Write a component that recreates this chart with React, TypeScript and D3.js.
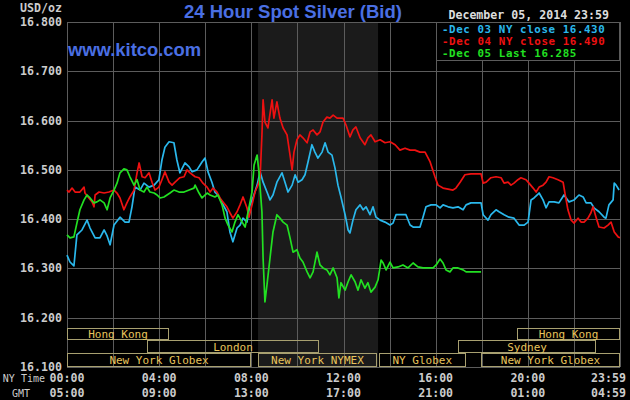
import React, { useEffect } from 'react';
import * as d3 from 'd3';

const priceTicks = [16.1, 16.2, 16.3, 16.4, 16.5, 16.6, 16.7, 16.8];
const gridHours = [0, 2, 4, 6, 8, 10, 12, 14, 16, 18, 20, 22, 24];
const labelHours = [0, 4, 8, 12, 16, 20, 24];
const nyTimeLabels = ['00:00', '04:00', '08:00', '12:00', '16:00', '20:00', '23:59'];
const gmtLabels = ['05:00', '09:00', '13:00', '17:00', '21:00', '01:00', '04:59'];

const dec03: [number, number][] = [
  [0, 16.327], [0.13, 16.313], [0.30, 16.305], [0.43, 16.368], [0.65, 16.378], [0.87, 16.398], [1.00, 16.382],
  [1.22, 16.362], [1.43, 16.362], [1.61, 16.378], [1.74, 16.366], [1.87, 16.348], [2.04, 16.388], [2.30, 16.404],
  [2.52, 16.394], [2.69, 16.394], [2.82, 16.425], [2.95, 16.465], [3.17, 16.459], [3.34, 16.473], [3.56, 16.465],
  [3.78, 16.469], [3.99, 16.480], [4.12, 16.520], [4.25, 16.546], [4.43, 16.557], [4.64, 16.555], [4.77, 16.520],
  [4.90, 16.494], [5.12, 16.514], [5.30, 16.506], [5.43, 16.496], [5.64, 16.500], [5.86, 16.516], [5.99, 16.524],
  [6.12, 16.496], [6.29, 16.475], [6.42, 16.455], [6.55, 16.449], [6.73, 16.433], [6.94, 16.415], [7.07, 16.374],
  [7.20, 16.354], [7.38, 16.382], [7.51, 16.388], [7.64, 16.402], [7.81, 16.394], [7.94, 16.429], [8.07, 16.443],
  [8.25, 16.469], [8.38, 16.496], [8.51, 16.475], [8.68, 16.455], [8.81, 16.439], [8.94, 16.449], [9.11, 16.475],
  [9.33, 16.494], [9.46, 16.475], [9.59, 16.455], [9.77, 16.469], [9.90, 16.490], [10.03, 16.475], [10.20, 16.480],
  [10.33, 16.490], [10.46, 16.516], [10.63, 16.551], [10.76, 16.536], [10.89, 16.524], [11.07, 16.536], [11.20, 16.555],
  [11.33, 16.536], [11.50, 16.530], [11.63, 16.504], [11.76, 16.469], [11.89, 16.445], [12.07, 16.409], [12.20, 16.378],
  [12.28, 16.372], [12.41, 16.398], [12.54, 16.419], [12.72, 16.429], [12.85, 16.419], [12.98, 16.425], [13.15, 16.409],
  [13.28, 16.425], [13.41, 16.404], [13.59, 16.398], [13.80, 16.394], [14.02, 16.388], [14.15, 16.392], [14.28, 16.409],
  [14.50, 16.409], [14.71, 16.409], [14.89, 16.388], [15.02, 16.384], [15.32, 16.384], [15.45, 16.404], [15.58, 16.425],
  [15.80, 16.429], [16.02, 16.429], [16.19, 16.423], [16.32, 16.429], [16.54, 16.425], [16.75, 16.423], [16.97, 16.425],
  [17.19, 16.419], [17.32, 16.429], [17.53, 16.433], [17.84, 16.433], [17.97, 16.433], [18.06, 16.409], [18.27, 16.398],
  [18.40, 16.409], [18.62, 16.419], [18.75, 16.415], [18.97, 16.409], [19.18, 16.404], [19.40, 16.402], [19.62, 16.388],
  [19.84, 16.388], [20.01, 16.394], [20.14, 16.439], [20.27, 16.443], [20.49, 16.453], [20.66, 16.439], [20.79, 16.423],
  [20.92, 16.435], [21.14, 16.435], [21.35, 16.433], [21.57, 16.449], [21.79, 16.435], [22.01, 16.439], [22.22, 16.449],
  [22.40, 16.445], [22.53, 16.433], [22.74, 16.433], [22.87, 16.423], [23.09, 16.415], [23.31, 16.404], [23.39, 16.402],
  [23.52, 16.429], [23.70, 16.439], [23.75, 16.473], [23.83, 16.469], [23.96, 16.459],
];

const dec04: [number, number][] = [
  [0, 16.459], [0.09, 16.455], [0.22, 16.463], [0.35, 16.455], [0.56, 16.455], [0.74, 16.465], [0.78, 16.453],
  [0.95, 16.443], [1.09, 16.435], [1.17, 16.425], [1.22, 16.449], [1.39, 16.455], [1.61, 16.453], [1.82, 16.455],
  [2.04, 16.459], [2.17, 16.453], [2.30, 16.443], [2.47, 16.419], [2.60, 16.433], [2.73, 16.445], [2.91, 16.459],
  [3.04, 16.494], [3.13, 16.514], [3.26, 16.486], [3.39, 16.484], [3.56, 16.494], [3.69, 16.475], [3.82, 16.459],
  [3.99, 16.465], [4.12, 16.480], [4.25, 16.496], [4.43, 16.475], [4.56, 16.469], [4.69, 16.475], [4.90, 16.484],
  [5.08, 16.486], [5.21, 16.500], [5.34, 16.494], [5.56, 16.486], [5.73, 16.484], [5.90, 16.473], [6.08, 16.465],
  [6.21, 16.455], [6.34, 16.463], [6.51, 16.455], [6.64, 16.443], [6.77, 16.435], [6.94, 16.425], [7.07, 16.413],
  [7.20, 16.402], [7.38, 16.415], [7.51, 16.429], [7.64, 16.445], [7.81, 16.423], [7.90, 16.404], [8.03, 16.429],
  [8.16, 16.455], [8.29, 16.469], [8.38, 16.484], [8.46, 16.571], [8.51, 16.642], [8.59, 16.597], [8.72, 16.585],
  [8.90, 16.642], [8.98, 16.605], [9.11, 16.638], [9.24, 16.605], [9.38, 16.585], [9.55, 16.571], [9.68, 16.530],
  [9.77, 16.500], [9.85, 16.536], [9.98, 16.561], [10.11, 16.571], [10.24, 16.565], [10.42, 16.555], [10.55, 16.577],
  [10.68, 16.581], [10.85, 16.571], [10.98, 16.577], [11.11, 16.597], [11.28, 16.607], [11.41, 16.605], [11.55, 16.611],
  [11.72, 16.605], [11.98, 16.605], [12.11, 16.591], [12.28, 16.567], [12.41, 16.581], [12.54, 16.587], [12.72, 16.565],
  [12.93, 16.551], [13.06, 16.565], [13.19, 16.571], [13.37, 16.557], [13.59, 16.561], [13.80, 16.555], [14.02, 16.557],
  [14.24, 16.551], [14.45, 16.540], [14.67, 16.544], [14.89, 16.540], [15.10, 16.540], [15.32, 16.536], [15.54, 16.536],
  [15.76, 16.516], [15.97, 16.486], [16.10, 16.469], [16.32, 16.463], [16.54, 16.461], [16.75, 16.459], [16.88, 16.463],
  [17.06, 16.475], [17.27, 16.490], [17.53, 16.492], [17.84, 16.492], [17.97, 16.492], [18.06, 16.473], [18.19, 16.475],
  [18.40, 16.484], [18.62, 16.486], [18.84, 16.484], [18.97, 16.473], [19.14, 16.475], [19.27, 16.469], [19.40, 16.473],
  [19.57, 16.480], [19.70, 16.484], [19.92, 16.480], [20.05, 16.473], [20.23, 16.463], [20.36, 16.455], [20.49, 16.465],
  [20.66, 16.469], [20.79, 16.475], [20.92, 16.486], [21.09, 16.484], [21.31, 16.480], [21.53, 16.475], [21.61, 16.453],
  [21.74, 16.419], [21.88, 16.398], [22.01, 16.392], [22.18, 16.402], [22.31, 16.394], [22.44, 16.394], [22.61, 16.402],
  [22.74, 16.413], [22.83, 16.425], [22.96, 16.404], [23.09, 16.384], [23.31, 16.382], [23.48, 16.388], [23.61, 16.394],
  [23.75, 16.374], [23.92, 16.364], [24.0, 16.362],
];

const dec05: [number, number][] = [
  [0, 16.368], [0.13, 16.362], [0.30, 16.364], [0.43, 16.392], [0.56, 16.419], [0.74, 16.439], [0.87, 16.449],
  [1.00, 16.443], [1.17, 16.433], [1.30, 16.435], [1.43, 16.439], [1.61, 16.433], [1.74, 16.419], [1.87, 16.443],
  [2.04, 16.459], [2.17, 16.473], [2.30, 16.494], [2.47, 16.502], [2.60, 16.500], [2.73, 16.486], [2.91, 16.469],
  [3.04, 16.480], [3.17, 16.459], [3.34, 16.455], [3.47, 16.465], [3.60, 16.455], [3.78, 16.453], [3.91, 16.449],
  [4.04, 16.443], [4.21, 16.445], [4.34, 16.449], [4.47, 16.453], [4.64, 16.459], [4.86, 16.455], [5.08, 16.455],
  [5.30, 16.459], [5.51, 16.463], [5.56, 16.469], [5.73, 16.453], [5.86, 16.443], [6.08, 16.453], [6.21, 16.449],
  [6.42, 16.445], [6.55, 16.449], [6.73, 16.429], [6.86, 16.402], [6.99, 16.388], [7.16, 16.374], [7.29, 16.394],
  [7.42, 16.409], [7.60, 16.394], [7.73, 16.384], [7.86, 16.415], [8.03, 16.455], [8.12, 16.510], [8.25, 16.530],
  [8.33, 16.496], [8.46, 16.415], [8.51, 16.321], [8.59, 16.232], [8.68, 16.267], [8.81, 16.321], [8.94, 16.374],
  [9.11, 16.409], [9.24, 16.402], [9.38, 16.394], [9.55, 16.388], [9.68, 16.362], [9.81, 16.333], [9.98, 16.338],
  [10.11, 16.321], [10.24, 16.313], [10.42, 16.293], [10.55, 16.281], [10.68, 16.293], [10.85, 16.333], [10.98, 16.307],
  [11.11, 16.301], [11.28, 16.297], [11.41, 16.287], [11.55, 16.301], [11.72, 16.281], [11.80, 16.240], [11.89, 16.271],
  [12.07, 16.256], [12.20, 16.273], [12.33, 16.287], [12.50, 16.273], [12.63, 16.256], [12.76, 16.277], [12.93, 16.260],
  [13.06, 16.271], [13.19, 16.252], [13.37, 16.262], [13.50, 16.277], [13.63, 16.317], [13.72, 16.311], [13.85, 16.297],
  [14.02, 16.313], [14.15, 16.301], [14.37, 16.303], [14.58, 16.307], [14.80, 16.301], [15.02, 16.311], [15.23, 16.303],
  [15.45, 16.301], [15.67, 16.301], [15.89, 16.301], [16.02, 16.307], [16.19, 16.319], [16.32, 16.311], [16.45, 16.297],
  [16.62, 16.293], [16.75, 16.301], [16.97, 16.301], [17.19, 16.297], [17.32, 16.293], [17.53, 16.293], [17.84, 16.293],
  [17.97, 16.293],
];

const seriesNames = ['Dec 03 NY close 16.430', 'Dec 04 NY close 16.490', 'Dec 05 Last 16.285'];
const seriesColors = ['#2ab8ec', '#ee1111', '#22e022'];
const seriesData = [dec03, dec04, dec05];

const sessionNames = ['Hong Kong', 'Hong Kong', 'London', 'Sydney', 'New York Globex', 'New York NYMEX', 'NY Globex', 'New York Globex'];
const sessionStart = [0, 19.53, 3.47, 16.97, 0, 8.29, 13.54, 17.97];
const sessionEnd = [4.43, 24, 10.94, 22.96, 7.99, 13.45, 17.30, 24];
const sessionRow = [0, 0, 1, 1, 2, 2, 2, 2];
const nymexHours = [8.29, 13.5];

const W = 630, H = 400;
const left = 67, right = 620, top = 22, bottom = 367;
const rowTops = [328, 340, 353, 367];
const mono = "'DejaVu Sans Mono', monospace";

export default function App() {
  useEffect(() => {
    document.body.style.margin = '0';
    document.body.style.background = '#000';
  }, []);
  const x = d3.scaleLinear().domain([0, 24]).range([left, right]);
  const y = d3.scaleLinear().domain([16.1, 16.8]).range([bottom, top]);
  const line = d3.line<[number, number]>().x(d => x(d[0])).y(d => y(d[1]));
  const grid = '#5c5c5c';
  return (
    <svg width={W} height={H} style={{ display: 'block', background: '#000' }}>
      <rect x={0} y={0} width={W} height={H} fill="#000" />
      <rect x={x(nymexHours[0])} y={top} width={x(nymexHours[1]) - x(nymexHours[0])} height={bottom - top} fill="#1b1b1b" />
      {priceTicks.map(p => (
        <line key={'h' + p} x1={left} x2={right} y1={Math.round(y(p)) + 0.5} y2={Math.round(y(p)) + 0.5} stroke={grid} strokeWidth={1} />
      ))}
      {gridHours.map(h => (
        <line key={'v' + h} x1={Math.round(x(h)) + 0.5} x2={Math.round(x(h)) + 0.5} y1={top} y2={bottom} stroke={grid} strokeWidth={1} />
      ))}
      {sessionNames.map((n, i) => {
        const x0 = x(sessionStart[i]);
        const x1 = x(sessionEnd[i]);
        const y0 = rowTops[sessionRow[i]];
        const y1 = rowTops[sessionRow[i] + 1];
        return (
          <g key={'s' + i}>
            <rect x={Math.round(x0) + 0.5} y={y0 + 0.5} width={Math.round(x1 - x0) - 1} height={y1 - y0 - 1} fill="none" stroke="#a8a070" strokeWidth={1} />
            <text x={(x0 + x1) / 2} y={(y0 + y1) / 2 + 4} textAnchor="middle" fill="#e8c45c" fontFamily={mono} fontSize={11}>{n}</text>
          </g>
        );
      })}
      {seriesData.map((d, i) => (
        <path key={'p' + i} d={line(d) || ''} fill="none" stroke={seriesColors[i]} strokeWidth={1.7} strokeLinejoin="round" />
      ))}
      <rect x={436.5} y={22.5} width={183} height={38} fill="#000" stroke={grid} strokeWidth={1} />
      {seriesNames.map((n, i) => (
        <text key={'l' + i} x={442} y={32.5 + i * 12.3} fill={seriesColors[i]} fontFamily={mono} fontWeight="bold" fontSize={10.8} letterSpacing={0.6}>{'-' + n}</text>
      ))}
      <text x={293} y={18} textAnchor="middle" fill="#4a6fe3" fontFamily="'Liberation Sans', Arial, sans-serif" fontWeight="bold" fontSize={18.5}>24 Hour Spot Silver (Bid)</text>
      <text x={68} y={56} fill="#4a6fe3" fontFamily="'Liberation Sans', Arial, sans-serif" fontWeight="bold" fontSize={18.4}>www.kitco.com</text>
      <text x={609} y={19} textAnchor="end" fill="#dddddd" fontFamily={mono} fontWeight="bold" fontSize={11.6}>December 05, 2014 23:59</text>
      <text x={62} y={12} textAnchor="end" fill="#cccccc" fontFamily={mono} fontWeight="bold" fontSize={11.6}>USD/oz</text>
      {priceTicks.map(p => (
        <text key={'yl' + p} x={62} y={y(p) + 4} textAnchor="end" fill="#cccccc" fontFamily={mono} fontWeight="bold" fontSize={11.6}>{p.toFixed(3)}</text>
      ))}
      <text x={45} y={382} textAnchor="end" fill="#cccccc" fontFamily={mono} fontSize={10}>NY Time</text>
      <text x={30} y={397} textAnchor="end" fill="#cccccc" fontFamily={mono} fontSize={10}>GMT</text>
      {labelHours.map((h, i) => {
        const last = i === labelHours.length - 1;
        const tx = last ? 626 : x(h);
        const anchor = last ? 'end' : 'middle';
        return (
          <g key={'xl' + i}>
            <text x={tx} y={382} textAnchor={anchor} fill="#cccccc" fontFamily={mono} fontWeight="bold" fontSize={11.6}>{nyTimeLabels[i]}</text>
            <text x={tx} y={397} textAnchor={anchor} fill="#cccccc" fontFamily={mono} fontWeight="bold" fontSize={11.6}>{gmtLabels[i]}</text>
          </g>
        );
      })}
    </svg>
  );
}
